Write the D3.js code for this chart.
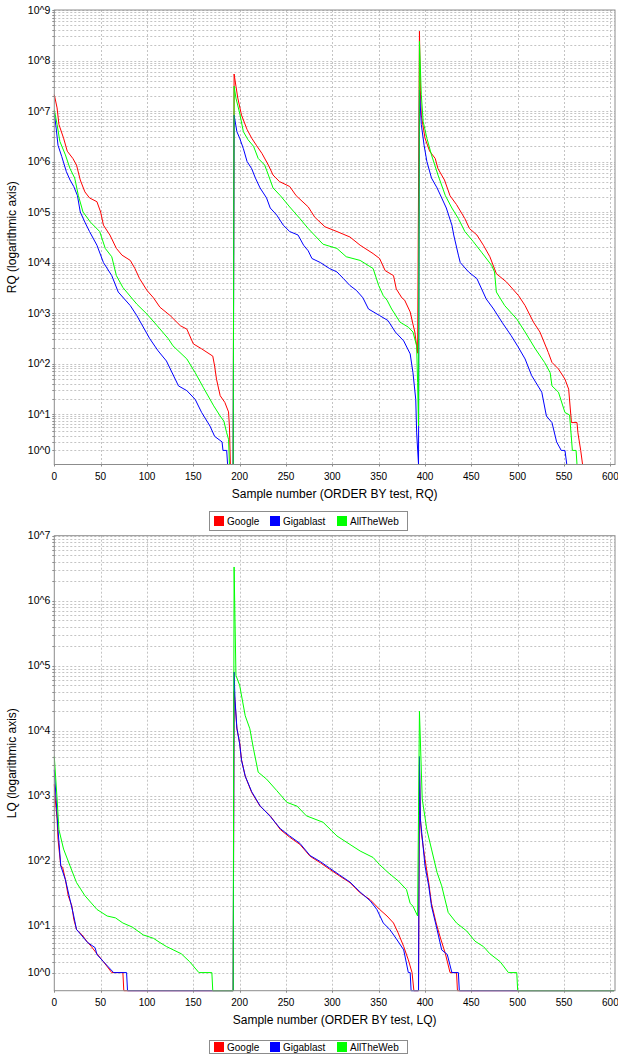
<!DOCTYPE html>
<html>
<head>
<meta charset="utf-8">
<script src="https://cdn.jsdelivr.net/npm/d3@7"></script>
<style>
body { margin: 0; background: #fff; }
text { font-family: "Liberation Sans", Arial, sans-serif; fill: #000; }
</style>
</head>
<body>
<script>
/*
 * Two log charts of the RQ / LQ values per sample, three engines each.
 * Each series is a list of [sample number, value] points.
 */
var seriesNames = ["Google", "Gigablast", "AllTheWeb"];
var seriesColors = ["#ff0000", "#0000ff", "#00ff00"];
var xTicks = [0, 50, 100, 150, 200, 250, 300, 350, 400, 450, 500, 550, 600];

// ---- RQ ----
var rqGoogle = [
	[0,2.1e7],[3,1.15e7],[5,5.4e6],[10,2.9e6],[14,1.6e6],[20,1.15e6],[24,8.5e5],[28,4.3e5],
	[33,2.5e5],[38,1.9e5],[46,1.6e5],[50,1.0e5],[53,5.5e4],[60,3.5e4],[67,1.9e4],[73,1.4e4],
	[82,1.1e4],[87,7.6e3],[92,4.8e3],[100,2.8e3],[107,2.0e3],[114,1.3e3],[125,890],[136,560],
	[143,480],[150,245],[159,195],[171,140],[173,89],[175,49],[179,23],[184,17],[188,11],
	[189,5],[190,0],[193,0],
	[194,5.4e7],[196,3.1e7],[198,1.8e7],[202,8.3e6],[208,4.3e6],[213,2.9e6],[218,2.1e6],
	[224,1.45e6],[231,8.5e5],[236,5.4e5],[243,4.0e5],[254,3.2e5],[261,2.1e5],[274,1.26e5],
	[281,7.9e4],[292,5.1e4],[305,4.1e4],[319,3.2e4],[330,2.2e4],[344,1.5e4],[351,1.2e4],
	[357,6.9e3],[366,5.5e3],[369,3.0e3],[375,2.0e3],[378,1.8e3],[384,1.05e3],[387,600],
	[389,420],[391,220],[392,160],
	[394,3.8e8],[395,2.5e7],[396,8.3e6],[400,2.9e6],[405,1.6e6],[411,1.15e6],[414,7.2e5],
	[421,4.3e5],[427,2.1e5],[434,1.4e5],[443,7.4e4],[448,4.7e4],[456,3.5e4],[463,2.2e4],
	[470,1.3e4],[477,6.0e3],[488,4.1e3],[501,2.2e3],[508,1.4e3],[517,660],[524,420],
	[533,166],[537,105],[544,78],[551,49],[555,31],[558,6.4],[564,6.4],[565,3.6],[568,1],
	[570,0],[604,0]
];
var rqGigablast = [
	[0,9.1e6],[2,4.6e6],[4,2.1e6],[8,1.26e6],[13,6.3e5],[17,4.3e5],[21,3.2e5],[25,2.1e5],
	[28,1.0e5],[33,6.3e4],[38,4.1e4],[46,2.2e4],[53,1.0e4],[62,5.5e3],[69,2.6e3],[82,1.4e3],
	[89,890],[103,310],[112,178],[121,112],[134,36],[143,29],[152,19.5],[159,10.7],[168,5.3],
	[173,2.9],[181,2],[182,1],[186,1],[187,0],[193,0],
	[194,8.3e6],[197,3.9e6],[200,2.9e6],[204,1.8e6],[208,1.0e6],[213,7.2e5],[217,4.7e5],
	[222,3.0e5],[229,1.9e5],[233,1.2e5],[240,8.7e4],[247,5.5e4],[254,4.1e4],[263,3.5e4],
	[269,2.2e4],[274,1.7e4],[278,1.2e4],[287,1.0e4],[297,7.6e3],[305,6.5e3],[312,4.8e3],
	[319,3.5e3],[326,2.8e3],[333,2.0e3],[339,1.2e3],[351,890],[360,710],[368,420],[377,280],
	[384,155],[387,66],[390,19.5],[391,3.6],[393,0],
	[394,2.6e7],[396,5.4e6],[399,2.1e6],[402,1.0e6],[407,4.7e5],[413,3.0e5],[418,1.9e5],
	[423,1.2e5],[429,5.5e4],[431,3.5e4],[436,1.4e4],[438,1.0e4],[447,6.5e3],[456,4.8e3],
	[466,1.9e3],[474,1.2e3],[483,660],[493,355],[500,220],[508,123],[515,58],[526,27],
	[531,9.0],[537,6.4],[542,2],[547,1],[551,1],[553,0],[604,0]
];
var rqAllTheWeb = [
	[0,1.05e7],[3,5.4e6],[6,2.5e6],[12,1.35e6],[17,7.2e5],[22,4.7e5],[26,2.1e5],[31,1.0e5],
	[39,6.3e4],[49,4.1e4],[55,1.9e4],[62,1.3e4],[67,5.5e3],[74,3.2e3],[89,1.5e3],[100,950],
	[111,560],[123,310],[128,224],[143,123],[152,66],[161,33],[172,14.5],[179,9.0],[183,6.9],
	[186,3.6],[188,2.4],[189,0],[193,0],
	[194,3.1e7],[196,1.8e7],[200,9.1e6],[204,3.9e6],[209,2.7e6],[215,2.0e6],[220,1.15e6],
	[227,8.5e5],[231,5.4e5],[236,3.0e5],[244,2.1e5],[254,1.26e5],[265,7.4e4],[274,4.7e4],
	[290,2.3e4],[305,1.9e4],[315,1.3e4],[330,1.1e4],[344,7.6e3],[350,3.5e3],[355,2.2e3],
	[359,1.8e3],[364,1.2e3],[373,660],[382,525],[387,420],[391,224],[392,42],[393,5.3],
	[394,2.4e8],[396,2.1e7],[398,6.2e6],[402,2.9e6],[407,1.35e6],[414,5.4e5],[422,2.1e5],
	[429,1.2e5],[436,7.4e4],[443,4.1e4],[452,2.6e4],[461,1.6e4],[472,8.7e3],[475,6.5e3],
	[477,2.6e3],[486,1.4e3],[499,760],[508,420],[519,195],[529,105],[535,66],[537,36],
	[544,27],[551,10.7],[556,9.5],[559,1],[563,1],[564,0],[604,0]
];

// ---- LQ ----
var lqGoogle = [
	[0,1.5e3],[1,890],[3,440],[4,214],[7,83],[9,79],[12,51],[15,29],[19,20],[21,12.6],
	[24,8.6],[30,6.9],[35,5.3],[40,4.2],[46,3],[53,2],[62,1],[74,1],[75,0],[193,0],
	[194,4.0e4],[195,2.8e4],[197,1.07e4],[200,6.6e3],[202,3.6e3],[206,2.0e3],[213,1.12e3],
	[222,690],[233,490],[244,300],[254,230],[265,178],[276,117],[287,93],[297,74],[308,58],
	[319,46],[330,32],[341,25],[351,17.8],[359,14.1],[366,11],[371,7.5],[377,4.2],[382,2.2],
	[386,1],[388,0],[393,0],
	[394,3.0e3],[395,440],[396,270],[400,105],[404,46],[407,22],[412,11],[416,6.6],[422,3],
	[427,1],[434,1],[435,0],[604,0]
];
var lqGigablast = [
	[0,2.5e3],[2,890],[4,300],[7,83],[12,51],[17,25],[21,14.1],[24,8.6],[30,6.6],[36,5.0],
	[44,4.0],[46,2.9],[53,2],[64,1],[78,1],[79,0],[193,0],
	[194,8.0e4],[195,3.0e4],[197,1.1e4],[200,6.3e3],[202,3.5e3],[206,2.0e3],[213,1.15e3],
	[222,700],[233,480],[244,310],[254,240],[265,185],[276,120],[287,97],[297,77],[308,60],
	[319,47],[330,33],[341,24],[348,17.8],[355,11],[362,8.6],[369,5.9],[377,3.6],[382,1],
	[384,1],[385,0],[393,0],
	[394,4.0e3],[395,440],[400,83],[404,41],[407,20],[413,8.6],[418,3.6],[424,2.9],[429,1],
	[436,1],[437,0],[604,0]
];
var lqAllTheWeb = [
	[0,4.0e3],[3,890],[5,300],[10,151],[17,83],[24,46],[33,29],[46,17.8],[57,14.1],[66,13.2],
	[74,11],[84,9.5],[96,6.9],[107,6.0],[114,5.0],[121,4.2],[137,3],[146,2],[156,1],[170,1],
	[171,0],[193,0],
	[194,3.3e6],[196,7.1e4],[200,5.0e4],[206,1.7e4],[211,1.07e4],[215,5.2e3],[220,2.3e3],
	[229,1.8e3],[240,1.2e3],[251,790],[262,690],[272,490],[290,390],[305,240],[319,178],
	[330,141],[344,112],[351,87],[360,66],[371,49],[380,36],[384,22],[387,20],[392,14.1],
	[394,2.0e4],[397,890],[402,300],[407,151],[413,66],[418,41],[425,16],[434,11],[445,8.1],
	[454,5.3],[463,4.2],[470,3],[481,2],[490,1],[499,1],[500,0],[604,0]
];

// log10 that keeps small values (<10) from going negative
function adjLog(v) {
	if (v < 10) v += (10 - v) / 10;
	return Math.log10(v);
}

var svg = d3.select("body").append("svg")
	.attr("width", 618).attr("height", 1055)
	.style("display", "block");
svg.append("rect").attr("width", 618).attr("height", 1055).attr("fill", "#fff");

function drawPanel(p) {
	var x = d3.scaleLinear().domain([0, 605]).range([p.left, p.right]);
	var yl = d3.scaleLinear().domain([0, p.decades]).range([p.bottom, p.top]);
	var y = function(v) { return yl(adjLog(v)); };
	var g = svg.append("g");

	// grid values: 1..9 x 10^k
	var gridVals = [];
	for (var k = 0; k < p.decades; k++) {
		for (var m = 1; m <= 9; m++) gridVals.push(m * Math.pow(10, k));
	}
	gridVals.push(Math.pow(10, p.decades));

	g.selectAll(".hgrid").data(gridVals).enter().append("line")
		.attr("x1", p.left).attr("x2", p.right)
		.attr("y1", function(d) { return Math.round(y(d)) + 0.5; })
		.attr("y2", function(d) { return Math.round(y(d)) + 0.5; })
		.attr("stroke", "#c4c4c4").attr("stroke-dasharray", "2,2");
	g.selectAll(".vgrid").data(xTicks.slice(1)).enter().append("line")
		.attr("x1", function(d) { return Math.round(x(d)) + 0.5; })
		.attr("x2", function(d) { return Math.round(x(d)) + 0.5; })
		.attr("y1", p.top).attr("y2", p.bottom)
		.attr("stroke", "#c4c4c4").attr("stroke-dasharray", "2,2");

	// the series: red, blue, then green on top
	var line = d3.line()
		.x(function(d) { return x(d[0]); })
		.y(function(d) { return y(d[1]); });
	g.selectAll(".series").data(p.series).enter().append("path")
		.attr("d", line)
		.attr("fill", "none")
		.attr("stroke", function(d, i) { return seriesColors[i]; })
		.attr("stroke-width", 1);

	// frame
	g.append("rect")
		.attr("x", p.left).attr("y", p.top)
		.attr("width", p.right - p.left).attr("height", p.bottom - p.top)
		.attr("fill", "none").attr("stroke", "#8c8c8c");

	// y ticks
	g.selectAll(".ytick").data(gridVals).enter().append("line")
		.attr("x1", p.left - 2).attr("x2", p.left)
		.attr("y1", function(d) { return Math.round(y(d)) + 0.5; })
		.attr("y2", function(d) { return Math.round(y(d)) + 0.5; })
		.attr("stroke", "#8c8c8c");
	var majors = d3.range(0, p.decades + 1);
	g.selectAll(".ylab").data(majors).enter().append("text")
		.attr("x", p.left - 4)
		.attr("y", function(d) { return y(Math.pow(10, d)); })
		.attr("dy", "0.35em")
		.attr("text-anchor", "end")
		.style("font-size", "10.5px")
		.text(function(d) { return "10^" + d; });

	// x ticks
	g.selectAll(".xtick").data(xTicks).enter().append("line")
		.attr("x1", function(d) { return Math.round(x(d)) + 0.5; })
		.attr("x2", function(d) { return Math.round(x(d)) + 0.5; })
		.attr("y1", p.bottom).attr("y2", p.bottom + 2)
		.attr("stroke", "#8c8c8c");
	g.selectAll(".xlab").data(xTicks).enter().append("text")
		.attr("x", function(d) { return x(d); })
		.attr("y", p.bottom + 15.5)
		.attr("text-anchor", "middle")
		.style("font-size", "10px")
		.text(function(d) { return d; });

	// axis titles
	g.append("text")
		.attr("x", (p.left + p.right) / 2).attr("y", p.bottom + 33)
		.attr("text-anchor", "middle")
		.style("font-size", "12px")
		.text(p.xTitle);
	g.append("text")
		.attr("transform", "translate(16," + ((p.top + p.bottom) / 2) + ") rotate(-90)")
		.attr("text-anchor", "middle")
		.style("font-size", "12px")
		.text(p.yTitle);

	// legend
	var lg = g.append("g");
	lg.append("rect")
		.attr("x", 209.5).attr("y", p.legendY + 0.5)
		.attr("width", 198).attr("height", p.legendH)
		.attr("fill", "#fff").attr("stroke", "#8c8c8c");
	var itemX = [214, 270, 337];
	var item = lg.selectAll(".item").data(seriesNames).enter().append("g");
	item.append("rect")
		.attr("x", function(d, i) { return itemX[i]; })
		.attr("y", p.legendY + p.legendPad)
		.attr("width", 10).attr("height", 10)
		.attr("fill", function(d, i) { return seriesColors[i]; });
	item.append("text")
		.attr("x", function(d, i) { return itemX[i] + 13; })
		.attr("y", p.legendY + p.legendPad + 9)
		.style("font-size", "10px")
		.text(function(d) { return d; });
}

drawPanel({
	top: 10, bottom: 464.5, left: 54.3, right: 615, decades: 9,
	series: [rqGoogle, rqGigablast, rqAllTheWeb],
	xTitle: "Sample number (ORDER BY test, RQ)",
	yTitle: "RQ (logarithmic axis)",
	legendY: 511, legendH: 19, legendPad: 5
});
drawPanel({
	top: 535.7, bottom: 990.7, left: 54.3, right: 615, decades: 7,
	series: [lqGoogle, lqGigablast, lqAllTheWeb],
	xTitle: "Sample number (ORDER BY test, LQ)",
	yTitle: "LQ (logarithmic axis)",
	legendY: 1040, legendH: 13, legendPad: 2
});
</script>
</body>
</html>
